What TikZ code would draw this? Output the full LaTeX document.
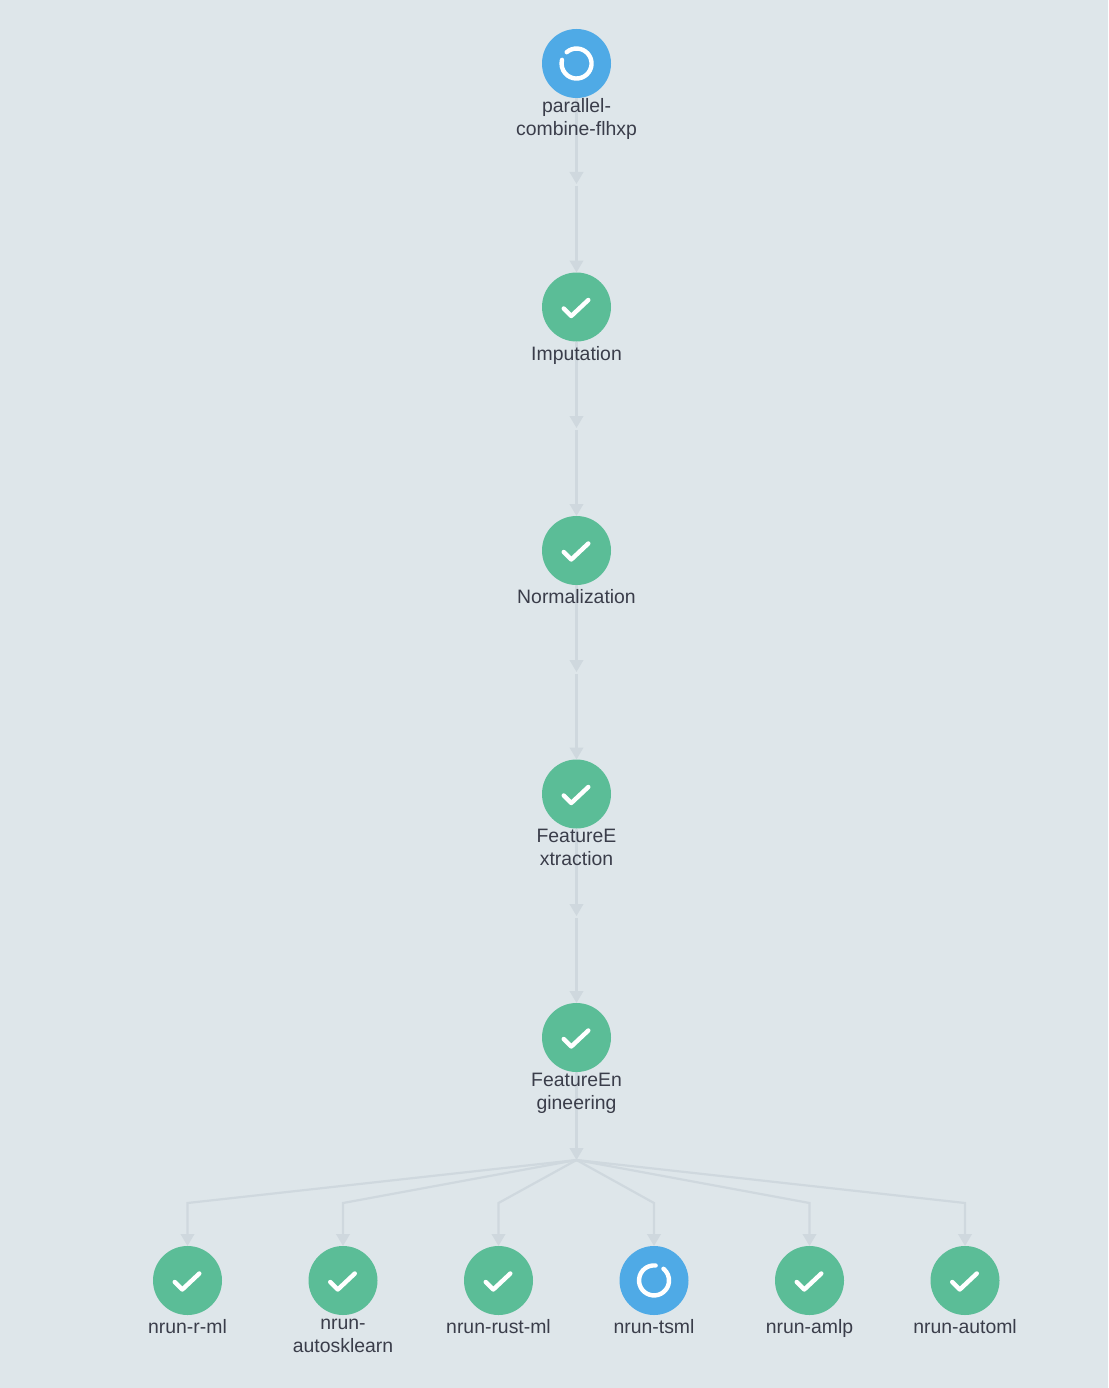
\documentclass[tikz,border=0pt]{standalone}
\usepackage{fontspec}
\setmainfont{Liberation Sans}
\usetikzlibrary{positioning,backgrounds,arrows.meta,calc}

\definecolor{canvas}{HTML}{DEE6EA}
\definecolor{okgreen}{HTML}{5BBD97}
\definecolor{runblue}{HTML}{4FAAE6}
\definecolor{edgegray}{HTML}{CFD8DE}
\definecolor{labelink}{HTML}{3A3D4A}

\begin{document}
\begin{tikzpicture}[
  x=1pt, y=-1pt,
  done/.style={circle, fill=okgreen, minimum size=69pt, inner sep=0pt, outer sep=0pt},
  running/.style={circle, fill=runblue, minimum size=69pt, inner sep=0pt, outer sep=0pt},
  lab/.style={font=\fontsize{19.4}{23}\selectfont, text=labelink, align=center, anchor=north,
    inner sep=0pt, outer sep=0pt, execute at begin node=\strut},
  lab2/.style={lab, yshift=1.2pt},
  lab3/.style={lab, yshift=-1.5pt},
  edge/.style={draw=edgegray, line width=2.2pt, -{Triangle[length=12pt, width=13.5pt]}},
  glyph/.style={draw=white, line width=4.4pt, line cap=round, line join=round},
  tick/.pic={\draw[glyph] (-12.8,1.5) -- (-5.2,9) -- (11.8,-7);},
  label distance=2.4pt,
]

% === Main chain ===
\node[running, label={[lab2, yshift=1pt]below:parallel-\\combine-flhxp}] (parallel) at (576.5,63.5) {};
\node[done, label={[lab]below:Imputation}] (imputation) at (576.5,307) {};
\node[done, label={[lab]below:Normalization}] (normalization) at (576.5,550.5) {};
\node[done, label={[lab2, yshift=0.8pt]below:FeatureE\\xtraction}] (extraction) at (576.5,794) {};
\node[done, label={[lab2]below:FeatureEn\\gineering}] (engineering) at (576.5,1037.5) {};

% === Final row ===
\node[done, label={[lab]below:nrun-r-ml}] (rml) at (187.5,1280.5) {};
\node[done, label={[lab3]below:nrun-\\autosklearn}] (autosklearn) at (343,1280.5) {};
\node[done, label={[lab]below:nrun-rust-ml}] (rustml) at (498.5,1280.5) {};
\node[running, label={[lab]below:nrun-tsml}] (tsml) at (654,1280.5) {};
\node[done, label={[lab]below:nrun-amlp}] (amlp) at (809.5,1280.5) {};
\node[done, label={[lab]below:nrun-automl}] (automl) at (965,1280.5) {};

% === Icons ===
\foreach \n in {imputation,normalization,extraction,engineering,rml,autosklearn,rustml,amlp,automl}
  \pic at (\n) {tick};
\draw[glyph] ($(parallel)+(-9.8,-11.3)$) arc[start angle=131, end angle=-194, radius=15pt];
\draw[glyph] ($(tsml)+(1.6,-15)$) arc[start angle=84, end angle=411, radius=15pt];

% === Waypoints between levels ===
\coordinate (way1) at (576.5,184);
\coordinate (way2) at (576.5,428);
\coordinate (way3) at (576.5,672);
\coordinate (way4) at (576.5,916);
\coordinate (way5) at (576.5,1160);

\begin{scope}[on background layer]
\fill[canvas] (0,0) rectangle (1108,1388);

% === Chain connectors ===
\draw[edge] (parallel) -- (way1);
\draw[edge] ($(way1)+(0,2)$) -- (imputation);
\draw[edge] (imputation) -- (way2);
\draw[edge] ($(way2)+(0,2)$) -- (normalization);
\draw[edge] (normalization) -- (way3);
\draw[edge] ($(way3)+(0,2)$) -- (extraction);
\draw[edge] (extraction) -- (way4);
\draw[edge] ($(way4)+(0,2)$) -- (engineering);
\draw[edge] (engineering) -- (way5);

% === Fan out ===
\foreach \n in {rml,autosklearn,rustml,tsml,amlp,automl}
  \draw[edge] (way5) -- ($(\n.north)+(0,-43)$) -- (\n.north);
\end{scope}

\useasboundingbox (0,0) rectangle (1108,1388);
\end{tikzpicture}
\end{document}
